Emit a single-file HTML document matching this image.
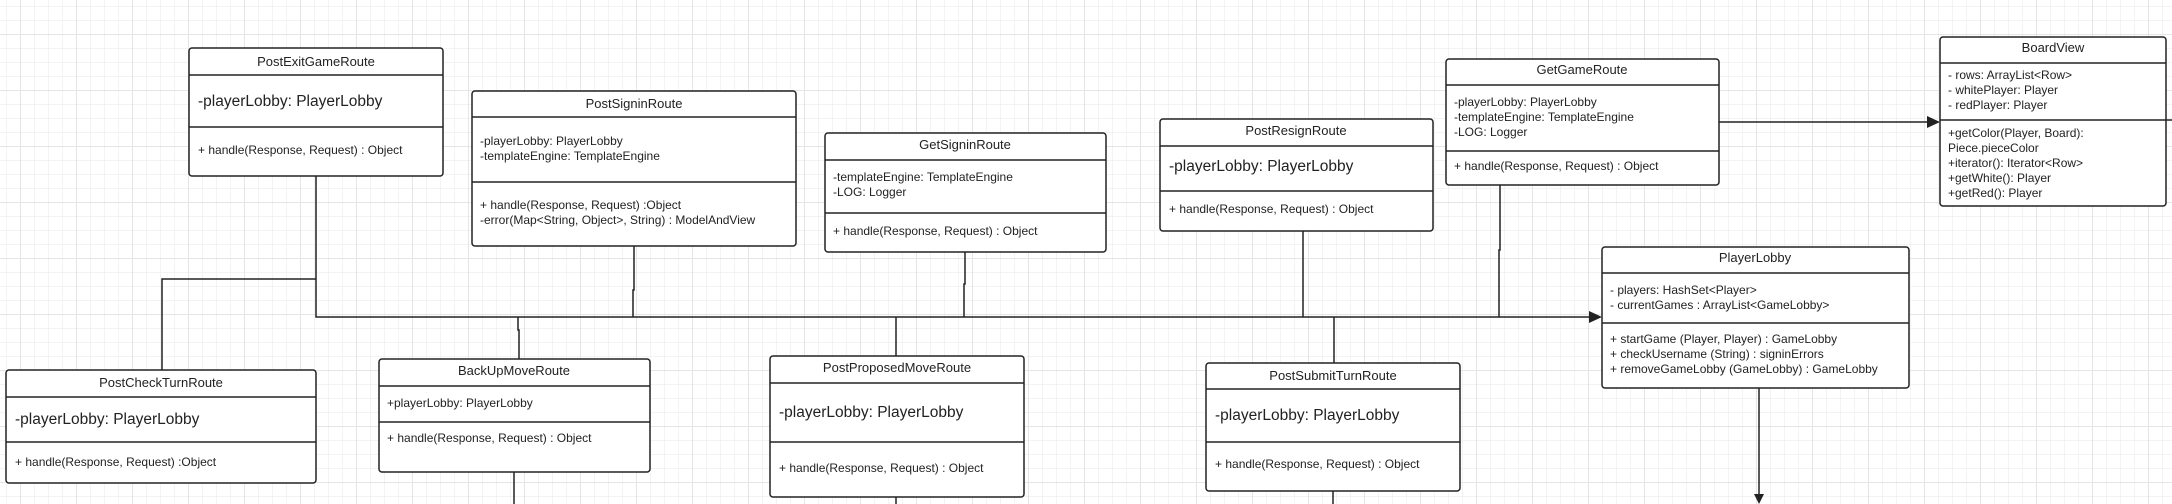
<!DOCTYPE html>
<html><head><meta charset="utf-8"><style>
html,body{margin:0;padding:0;background:#fff;}
svg{display:block;}
text{font-family:"Liberation Sans",Arial,sans-serif;fill:#222;}
</style></head><body>
<svg width="2172" height="504" viewBox="0 0 2172 504" xmlns="http://www.w3.org/2000/svg">
<defs>
<pattern id="minor" width="14" height="14" patternUnits="userSpaceOnUse" x="6" y="6">
<path d="M0 0H14M0 0V14" stroke="#efefef" stroke-width="1.5" fill="none"/>
</pattern>
<pattern id="major" width="56" height="56" patternUnits="userSpaceOnUse" x="20" y="34">
<path d="M0 0H56M0 0V56" stroke="#e0e0e0" stroke-width="1.5" fill="none"/>
</pattern>
</defs>
<rect width="2172" height="504" fill="#fff"/>
<rect width="2172" height="504" fill="url(#minor)"/>
<rect width="2172" height="504" fill="url(#major)"/>

<g stroke="#222" stroke-width="1.5" fill="none">
<!-- bus -->
<path d="M316 176V317H1592"/>
<path d="M316 279H162V370"/>
<path d="M634 246V290H633V317"/>
<path d="M518 317V330H519V359"/>
<path d="M514 472V504"/>
<path d="M965 252V284H964V317"/>
<path d="M896 317V356"/>
<path d="M896 497V504"/>
<path d="M1303 231V317"/>
<path d="M1334 317V363"/>
<path d="M1333 491V504"/>
<path d="M1500 185V250H1499V317"/>
<path d="M1719 122H1930"/>
<path d="M2166 120H2172"/>
<path d="M1759 388V500"/>
</g>
<g fill="#222">
<path d="M1602 317L1589 311V323Z"/>
<path d="M1940 122L1927 116V128Z"/>
<path d="M1759 504L1754 494H1764Z"/>
</g>

<g stroke="#222" stroke-width="1.5" fill="#fff">
<rect x="189" y="48" width="254" height="128" rx="3"/>
<rect x="472" y="91" width="324" height="155" rx="3"/>
<rect x="6" y="370" width="310" height="113" rx="3"/>
<rect x="379" y="359" width="271" height="113" rx="3"/>
<rect x="825" y="133" width="281" height="119" rx="3"/>
<rect x="1160" y="119" width="273" height="112" rx="3"/>
<rect x="770" y="356" width="254" height="141" rx="3"/>
<rect x="1206" y="363" width="254" height="128" rx="3"/>
<rect x="1446" y="59" width="273" height="126" rx="3"/>
<rect x="1940" y="37" width="226" height="169" rx="3"/>
<rect x="1602" y="247" width="307" height="141" rx="3"/>
</g>
<g stroke="#222" stroke-width="1.5">
<path d="M189 75H443M189 127H443"/>
<path d="M472 117H796M472 182H796"/>
<path d="M6 397H316M6 442H316"/>
<path d="M379 386H650M379 422H650"/>
<path d="M825 160H1106M825 213H1106"/>
<path d="M1160 146H1433M1160 191H1433"/>
<path d="M770 383H1024M770 442H1024"/>
<path d="M1206 389H1460M1206 442H1460"/>
<path d="M1446 85H1719M1446 151H1719"/>
<path d="M1940 63H2166M1940 120H2166"/>
<path d="M1602 273H1909M1602 323H1909"/>
</g>

<g font-size="13" text-anchor="middle">
<text x="316" y="66">PostExitGameRoute</text>
<text x="634" y="108">PostSigninRoute</text>
<text x="161" y="387">PostCheckTurnRoute</text>
<text x="514" y="375">BackUpMoveRoute</text>
<text x="965" y="149">GetSigninRoute</text>
<text x="1296" y="135">PostResignRoute</text>
<text x="897" y="372">PostProposedMoveRoute</text>
<text x="1333" y="380">PostSubmitTurnRoute</text>
<text x="1582" y="74">GetGameRoute</text>
<text x="2053" y="52">BoardView</text>
<text x="1755" y="262">PlayerLobby</text>
</g>

<g font-size="15.5">
<text x="198" y="106">-playerLobby: PlayerLobby</text>
<text x="15" y="424">-playerLobby: PlayerLobby</text>
<text x="1169" y="171">-playerLobby: PlayerLobby</text>
<text x="779" y="417">-playerLobby: PlayerLobby</text>
<text x="1215" y="420">-playerLobby: PlayerLobby</text>
</g>

<g font-size="12">
<text x="198" y="154">+ handle(Response, Request) : Object</text>
<text x="480" y="145">-playerLobby: PlayerLobby</text>
<text x="480" y="160">-templateEngine: TemplateEngine</text>
<text x="480" y="209">+ handle(Response, Request) :Object</text>
<text x="480" y="224">-error(Map&lt;String, Object&gt;, String) : ModelAndView</text>
<text x="15" y="466">+ handle(Response, Request) :Object</text>
<text x="387" y="407">+playerLobby: PlayerLobby</text>
<text x="387" y="442">+ handle(Response, Request) : Object</text>
<text x="833" y="181">-templateEngine: TemplateEngine</text>
<text x="833" y="196">-LOG: Logger</text>
<text x="833" y="235">+ handle(Response, Request) : Object</text>
<text x="1169" y="213">+ handle(Response, Request) : Object</text>
<text x="779" y="472">+ handle(Response, Request) : Object</text>
<text x="1215" y="468">+ handle(Response, Request) : Object</text>
<text x="1454" y="106">-playerLobby: PlayerLobby</text>
<text x="1454" y="121">-templateEngine: TemplateEngine</text>
<text x="1454" y="136">-LOG: Logger</text>
<text x="1454" y="170">+ handle(Response, Request) : Object</text>
<text x="1948" y="79">- rows: ArrayList&lt;Row&gt;</text>
<text x="1948" y="94">- whitePlayer: Player</text>
<text x="1948" y="109">- redPlayer: Player</text>
<text x="1948" y="137">+getColor(Player, Board):</text>
<text x="1948" y="152">Piece.pieceColor</text>
<text x="1948" y="167">+iterator(): Iterator&lt;Row&gt;</text>
<text x="1948" y="182">+getWhite(): Player</text>
<text x="1948" y="197">+getRed(): Player</text>
<text x="1610" y="294">- players: HashSet&lt;Player&gt;</text>
<text x="1610" y="309">- currentGames : ArrayList&lt;GameLobby&gt;</text>
<text x="1610" y="343">+ startGame (Player, Player) : GameLobby</text>
<text x="1610" y="358">+ checkUsername (String) : signinErrors</text>
<text x="1610" y="373">+ removeGameLobby (GameLobby) : GameLobby</text>
</g>
</svg>
</body></html>
